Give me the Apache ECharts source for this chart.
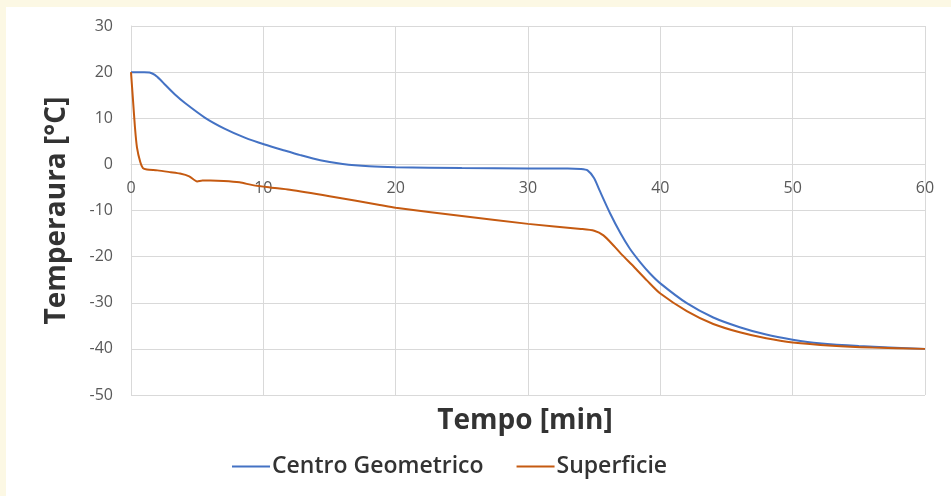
<!DOCTYPE html>
<html><head><meta charset="utf-8">
<script src="https://cdn.jsdelivr.net/npm/echarts@6/dist/echarts.min.js"></script>
<style>html,body{margin:0;padding:0;background:#FCF8E4;}#c{width:951px;height:496px;}</style>
</head><body><div id="c"></div>
<script>
const seriesNames = ['Centro Geometrico', 'Superficie'];
const xTicks = [0, 10, 20, 30, 40, 50, 60];
const yTicks = [-50, -40, -30, -20, -10, 0, 10, 20, 30];
const centroTime = [0,1,1.4,1.8,2.2,2.6,3.3,4.08,5.6,7.1,8.6,10.1,11.6,12.8,14.3,16,18,20,25,30,33,34,34.5,35,35.4,36.2,37,37.7,38.5,39.2,40,42,44,46,48,50,52,55,60];
const centroTemp = [20,20,19.9,19.4,18.4,17.2,15.2,13.3,10.1,7.7,5.8,4.3,3.0,2.0,0.9,0.1,-0.4,-0.6,-0.8,-0.9,-0.9,-1.0,-1.3,-3,-5.6,-10.6,-15,-18.3,-21.3,-23.6,-25.8,-30.1,-33.2,-35.3,-36.9,-38.0,-38.8,-39.4,-40];
const superTime = [0,0.15,0.3,0.45,0.7,0.9,1.2,2,3,3.7,4.4,5,5.4,6,7,8.2,9.2,10.5,12,15,18.8,20,25,30,34,35,35.7,36.5,37,38,39,40,42,44,46,48,50,53,56,60];
const superTemp = [20,14,8,3.7,0.5,-0.8,-1.1,-1.3,-1.7,-2.0,-2.6,-3.7,-3.5,-3.5,-3.6,-3.9,-4.5,-5,-5.5,-6.9,-8.8,-9.4,-11.2,-12.9,-14,-14.4,-15.4,-17.7,-19.3,-22.2,-25.2,-28.0,-31.8,-34.6,-36.4,-37.7,-38.6,-39.3,-39.7,-40];
const xTitle = 'Tempo [min]';
const yTitle = 'Temperaura [°C]';

const pairs = (t, v) => t.map((x, i) => [x, v[i]]);
const chart = echarts.init(document.getElementById('c'), null, {renderer: 'canvas'});
const font = '"Open Sans", "Noto Sans", sans-serif';
const gridTop = 26, gridBottom = 101, H = 496;
const yMin = -50, yMax = 30;
const plotH = H - gridTop - gridBottom;
const zeroOffset = -plotH * (0 - yMin) / (yMax - yMin);
chart.setOption({
  animation: false,
  backgroundColor: 'transparent',
  graphic: [
    {type: 'rect', left: 6, top: 7, shape: {width: 945, height: 489}, style: {fill: '#ffffff'}, z: -10, silent: true},
    {type: 'text', x: 525, y: 421, style: {text: xTitle, font: 'bold 28px ' + font, fill: '#333333', align: 'center', verticalAlign: 'middle'}}
  ],
  grid: {left: 131, right: 26, top: gridTop, bottom: gridBottom},
  legend: {
    data: seriesNames, bottom: 13, left: 227, itemWidth: 38, itemHeight: 2, itemGap: 33,
    icon: 'rect',
    textStyle: {fontFamily: font, fontSize: 23, fontWeight: 600, color: '#333333', padding: [0,0,0,-3]}
  },
  xAxis: {
    type: 'value', min: 0, max: 60, interval: 10, position: 'bottom', offset: zeroOffset,
    axisLine: {onZero: false, lineStyle: {color: '#d9d9d9', width: 1}},
    axisTick: {show: false},
    axisLabel: {margin: 16, fontFamily: font, fontSize: 16, color: '#595959',
      formatter: v => xTicks.includes(v) ? String(v) : ''},
    splitLine: {show: true, lineStyle: {color: '#d9d9d9', width: 1}}
  },
  yAxis: {
    type: 'value', min: yMin, max: yMax, interval: 10,
    name: yTitle, nameLocation: 'middle', nameGap: 60, nameRotate: 90,
    nameTextStyle: {fontFamily: font, fontSize: 28, fontWeight: 'bold', color: '#333333'},
    axisLine: {show: true, onZero: false, lineStyle: {color: '#d9d9d9'}},
    axisTick: {show: false},
    axisLabel: {margin: 18, fontFamily: font, fontSize: 16, color: '#595959',
      formatter: v => yTicks.includes(v) ? String(v) : ''},
    splitLine: {show: true, lineStyle: {color: '#d9d9d9', width: 1}}
  },
  series: [
    {name: seriesNames[0], type: 'line', data: pairs(centroTime, centroTemp), showSymbol: false, smooth: 0.25,
     lineStyle: {color: '#4472C4', width: 2}, itemStyle: {color: '#4472C4'}},
    {name: seriesNames[1], type: 'line', data: pairs(superTime, superTemp), showSymbol: false, smooth: 0.25,
     lineStyle: {color: '#C55A11', width: 2}, itemStyle: {color: '#C55A11'}}
  ]
});
</script></body></html>
